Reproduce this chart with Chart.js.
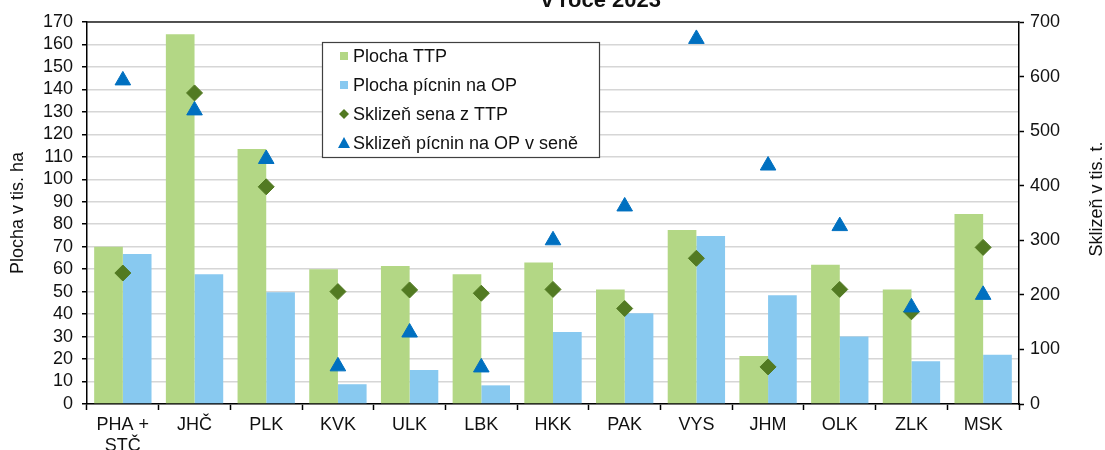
<!DOCTYPE html>
<html>
<head>
<meta charset="utf-8">
<script src="https://cdn.jsdelivr.net/npm/chart.js@4"></script>
<style>
  html, body { margin: 0; padding: 0; background: #fff; }
  #wrap { width: 1105px; height: 450px; position: relative; }
</style>
</head>
<body>
<div id="wrap"><canvas id="hayChart" width="1105" height="450"></canvas></div>
<script>
// regions (kraje)
const regions = [["PHA +", "STČ"], "JHČ", "PLK", "KVK", "ULK", "LBK", "HKK", "PAK", "VYS", "JHM", "OLK", "ZLK", "MSK"];

// area in thousand ha (left axis)
const areaTTP = [70, 164.5, 113.5, 60, 61.4, 57.7, 63, 51, 77.4, 21.4, 62, 51, 84.6];
const areaOP = [66.8, 57.7, 49.7, 8.8, 15.1, 8.3, 32, 40.4, 74.8, 48.4, 30, 19, 21.9];

// harvest in thousand t (right axis)
const hayTTP = [240, 570, 398, 206, 209, 203, 210, 175, 267, 68, 210, 169, 287];
const hayOP = [593, 538, 449, 69, 131, 67, 300, 362, 669, 437, 326, 177, 200];

// axis ranges
const leftMax = 170, leftStep = 10;
const rightMax = 700, rightStep = 100;

const titleText = "v roce 2023";
const leftTitle = "Plocha v tis. ha";
const rightTitle = "Sklizeň v tis. t.";

const FONT = "'Liberation Sans', Arial, sans-serif";
Chart.defaults.font.family = FONT;
Chart.defaults.font.size = 18;
Chart.defaults.color = "#111";

// draws title, axis titles, top frame line and the boxed legend
const decorPlugin = {
  id: "decor",
  afterDraw(chart) {
    const ctx = chart.ctx;
    const area = chart.chartArea;
    ctx.save();

    // top frame line
    ctx.strokeStyle = "#202020";
    ctx.lineWidth = 1.5;
    ctx.beginPath();
    ctx.moveTo(area.left, area.top);
    ctx.lineTo(area.right, area.top);
    ctx.stroke();

    // chart title (mostly cut off at the top)
    ctx.fillStyle = "#111";
    ctx.font = "bold 22px " + FONT;
    ctx.textAlign = "center";
    ctx.textBaseline = "alphabetic";
    ctx.fillText(titleText, 601, 7);

    // axis titles, both reading bottom-to-top
    const midY = (area.top + area.bottom) / 2;
    ctx.font = "18px " + FONT;
    ctx.textBaseline = "middle";
    ctx.save();
    ctx.translate(18, midY);
    ctx.rotate(-Math.PI / 2);
    ctx.fillText(leftTitle, 0, 0);
    ctx.restore();
    ctx.save();
    ctx.translate(1097, midY - 14);
    ctx.rotate(-Math.PI / 2);
    ctx.fillText(rightTitle, 0, 0);
    ctx.restore();

    // legend box
    const bx = 322.5, by = 42.5, bw = 277, bh = 115;
    ctx.fillStyle = "#fff";
    ctx.fillRect(bx, by, bw, bh);
    ctx.strokeStyle = "#404040";
    ctx.lineWidth = 1.2;
    ctx.strokeRect(bx, by, bw, bh);

    const items = chart.data.datasets.map((ds) => ds);
    items.sort((a, b) => a.legendIndex - b.legendIndex);
    items.forEach((ds, i) => {
      const y = 56 + i * 29;
      const mx = 344;
      ctx.fillStyle = ds.backgroundColor;
      if (ds.type === "bar") {
        ctx.fillRect(mx - 4, y - 4, 8, 8);
      } else if (ds.pointStyle === "rectRot") {
        ctx.beginPath();
        ctx.moveTo(mx - 5, y);
        ctx.lineTo(mx, y - 5);
        ctx.lineTo(mx + 5, y);
        ctx.lineTo(mx, y + 5);
        ctx.closePath();
        ctx.fill();
      } else {
        ctx.beginPath();
        ctx.moveTo(mx, y - 6);
        ctx.lineTo(mx + 6, y + 5);
        ctx.lineTo(mx - 6, y + 5);
        ctx.closePath();
        ctx.fill();
      }
      ctx.fillStyle = "#111";
      ctx.font = "18px " + FONT;
      ctx.textAlign = "left";
      ctx.textBaseline = "middle";
      ctx.fillText(ds.label, 353, y + 1);
    });

    ctx.restore();
  }
};

const ctx = document.getElementById("hayChart").getContext("2d");
new Chart(ctx, {
  data: {
    labels: regions,
    datasets: [
      {
        type: "line",
        label: "Sklizeň pícnin na OP v seně",
        legendIndex: 3,
        data: hayOP,
        yAxisID: "y2",
        showLine: false,
        pointStyle: "triangle",
        pointRadius: 9,
        pointHoverRadius: 9,
        backgroundColor: "#0070c0",
        borderColor: "#0070c0",
        borderWidth: 1,
        order: 0
      },
      {
        type: "line",
        label: "Sklizeň sena z TTP",
        legendIndex: 2,
        data: hayTTP,
        yAxisID: "y2",
        showLine: false,
        pointStyle: "rectRot",
        pointRadius: 8,
        pointHoverRadius: 8,
        backgroundColor: "#527a22",
        borderColor: "#527a22",
        borderWidth: 1,
        order: 1
      },
      {
        type: "bar",
        label: "Plocha TTP",
        legendIndex: 0,
        data: areaTTP,
        yAxisID: "y",
        backgroundColor: "#b3d785",
        borderWidth: 0,
        barPercentage: 1,
        categoryPercentage: 0.8,
        order: 2
      },
      {
        type: "bar",
        label: "Plocha pícnin na OP",
        legendIndex: 1,
        data: areaOP,
        yAxisID: "y",
        backgroundColor: "#88c9f0",
        borderWidth: 0,
        barPercentage: 1,
        categoryPercentage: 0.8,
        order: 2
      }
    ]
  },
  options: {
    responsive: false,
    animation: false,
    layout: { padding: { top: 22, left: 0, right: 0, bottom: 0 } },
    plugins: {
      legend: { display: false },
      title: { display: false },
      tooltip: { enabled: false }
    },
    scales: {
      x: {
        offset: true,
        grid: {
          offset: true,
          drawOnChartArea: false,
          drawTicks: true,
          tickLength: 6,
          tickColor: "#000",
          tickWidth: 1.5
        },
        border: { color: "#000", width: 1.5 },
        ticks: { padding: 4, maxRotation: 0, autoSkip: false, font: { size: 18 } },
        afterFit: (s) => { s.height = 46; }
      },
      y: {
        position: "left",
        min: 0,
        max: leftMax,
        ticks: { stepSize: leftStep, padding: 9, autoSkip: false, font: { size: 18 } },
        grid: {
          color: "#d6d6d6",
          lineWidth: 1.5,
          tickColor: "#000",
          tickLength: 5,
          tickWidth: 1.5
        },
        border: { color: "#000", width: 1.5 },
        afterFit: (s) => { s.width = 87; }
      },
      y2: {
        position: "right",
        min: 0,
        max: rightMax,
        ticks: { stepSize: rightStep, padding: 6, autoSkip: false, font: { size: 18 } },
        grid: {
          drawOnChartArea: false,
          tickColor: "#000",
          tickLength: 5,
          tickWidth: 1.5
        },
        border: { color: "#000", width: 1.5 },
        afterFit: (s) => { s.width = 86; }
      }
    }
  },
  plugins: [decorPlugin]
});
</script>
</body>
</html>
